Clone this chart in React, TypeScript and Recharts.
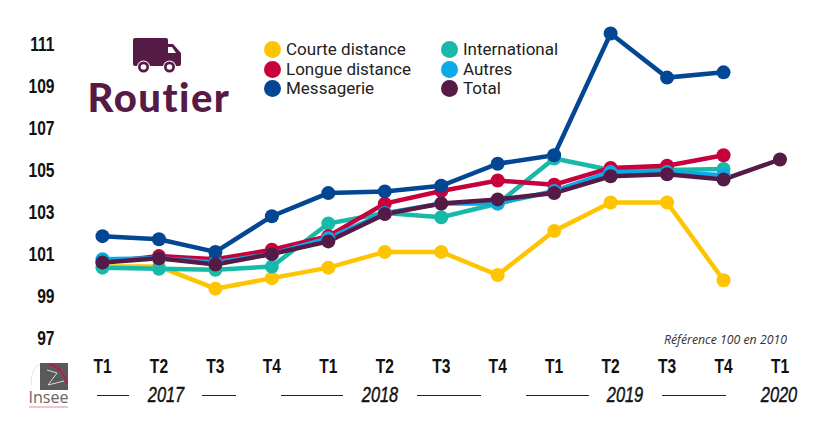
import React from "react";
import { LineChart, Line, XAxis, YAxis, Legend } from "recharts";

const quarterIds = ["17T1","17T2","17T3","17T4","18T1","18T2","18T3","18T4","19T1","19T2","19T3","19T4","20T1"];
const quarterLabels = ["T1","T2","T3","T4","T1","T2","T3","T4","T1","T2","T3","T4","T1"];
const yTicks = [97,99,101,103,105,107,109,111];

const courte = [100.4,100.4,99.35,99.85,100.35,101.1,101.1,100.0,102.1,103.45,103.45,99.75,null];
const international = [100.35,100.3,100.25,100.4,102.45,102.95,102.75,103.4,105.55,105.0,105.0,105.05,null];
const longue = [100.6,100.9,100.75,101.2,101.85,103.4,104.0,104.5,104.3,105.1,105.2,105.7,null];
const autres = [100.75,100.8,100.6,101.0,101.75,102.95,103.4,103.4,104.0,104.9,104.9,104.75,null];
const messagerie = [101.85,101.7,101.1,102.8,103.9,103.98,104.25,105.3,105.7,111.5,109.4,109.65,null];
const total = [100.6,100.8,100.5,101.0,101.6,102.9,103.4,103.6,103.9,104.7,104.8,104.55,105.5];

const rows = quarterIds.map((id, i) => ({
  id,
  courte: courte[i],
  international: international[i],
  longue: longue[i],
  autres: autres[i],
  messagerie: messagerie[i],
  total: total[i],
}));

const drawOrder = [
  { key: "courte", color: "#ffc400" },
  { key: "international", color: "#17baa8" },
  { key: "longue", color: "#c8003c" },
  { key: "autres", color: "#0aa9e8" },
  { key: "messagerie", color: "#034694" },
  { key: "total", color: "#561a46" },
];

const legendItems = [
  { name: "Courte distance", color: "#ffc400", x: 264, y: 40 },
  { name: "Longue distance", color: "#c8003c", x: 264, y: 60 },
  { name: "Messagerie", color: "#034694", x: 264, y: 79 },
  { name: "International", color: "#17baa8", x: 441, y: 40 },
  { name: "Autres", color: "#0aa9e8", x: 441, y: 60 },
  { name: "Total", color: "#561a46", x: 441, y: 79 },
];

const years = [
  { label: "2017", x: 166 },
  { label: "2018", x: 380 },
  { label: "2019", x: 625 },
  { label: "2020", x: 779 },
];
const yearRules = [[97,129],[202,236],[281,343],[417,481],[526,589],[662,726]];

const tickFont = "'Liberation Sans', sans-serif";

function YTick({ x, y, payload }: any) {
  return (
    <text
      transform={`translate(${x + 6},${y + 7}) scale(0.78,1.05)`}
      textAnchor="end"
      fill="#111"
      style={{ font: `700 20px ${tickFont}` }}
    >
      {payload.value}
    </text>
  );
}

function XTick({ x, y, index }: any) {
  return (
    <text
      transform={`translate(${x},${y + 15}) scale(0.82,1.05)`}
      textAnchor="middle"
      fill="#111"
      style={{ font: `700 19px ${tickFont}` }}
    >
      {quarterLabels[index]}
    </text>
  );
}

function LegendBox() {
  return (
    <div style={{ position: "relative", width: 836, height: 0 }}>
      {legendItems.map((it) => (
        <div key={it.name} style={{ position: "absolute", left: it.x, top: it.y, display: "flex", alignItems: "center", height: 18, whiteSpace: "nowrap" }}>
          <span style={{ width: 17, height: 17, borderRadius: "50%", background: it.color, display: "inline-block", marginRight: 5 }} />
          <span style={{ font: "17px Roboto, sans-serif", color: "#222" }}>{it.name}</span>
        </div>
      ))}
    </div>
  );
}

function Overlay() {
  return (
    <svg width={836} height={426} style={{ position: "absolute", left: 0, top: 0, pointerEvents: "none" }}>
      <g fill="#561a46">
        <rect x={133} y={38} width={35} height={28} rx={2} />
        <path d="M168 44 h5 l8 9 v11 a2 2 0 0 1 -2 2 h-11 z" />
        <path d="M168 47 h4 l4 6 h-8 z" fill="#fff" />
        <circle cx={143.5} cy={67} r={6.5} fill="#fff" />
        <circle cx={143.5} cy={67} r={5.5} />
        <circle cx={143.5} cy={67} r={2.8} fill="#fff" />
        <circle cx={169.5} cy={67} r={6.5} fill="#fff" />
        <circle cx={169.5} cy={67} r={5.5} />
        <circle cx={169.5} cy={67} r={2.8} fill="#fff" />
      </g>
      <text x={159} y={112} textAnchor="middle" fill="#561a46" style={{ font: "900 40px Lato, sans-serif", letterSpacing: 1.5 }}>Routier</text>

      <text x={787} y={344} textAnchor="end" fill="#333" style={{ font: "italic 12.3px 'Open Sans', sans-serif" }}>Référence 100 en 2010</text>

      {years.map((y) => (
        <text key={y.label} transform={`translate(${y.x},402) scale(0.82,1.1)`} textAnchor="middle" fill="#111" style={{ font: `italic 400 20px ${tickFont}` }} stroke="#111" strokeWidth={0.4}>{y.label}</text>
      ))}
      {yearRules.map(([a, b]) => (
        <line key={a} x1={a} x2={b} y1={395.5} y2={395.5} stroke="#222" strokeWidth={1} />
      ))}

      <rect x={40} y={363} width={28} height={27} fill="#5a5a5a" />
      <path d="M49 364 Q63 368 67.5 384" fill="none" stroke="#d0103a" strokeWidth={1.5} />
      <path d="M47 370 L57 373 L48 385 L64 381" fill="none" stroke="#ddd" strokeWidth={1} />
      <path d="M31 385 Q31 368 40 364" fill="none" stroke="#e4e4e4" strokeWidth={1} />
      <text x={28.5} y={403} fill="#666" textLength={40} lengthAdjust="spacingAndGlyphs" style={{ font: "17px 'Open Sans', sans-serif" }}>Insee</text>
      <line x1={29} x2={68} y1={407} y2={407} stroke="#e58aa0" strokeWidth={1.2} />
    </svg>
  );
}

export default function App() {
  return (
    <div style={{ position: "absolute", left: 0, top: 0, width: 836, height: 426, background: "#fff" }}>
      <LineChart width={836} height={426} data={rows} margin={{ top: 23, right: 56, bottom: 0, left: 0 }}>
        <XAxis
          dataKey="id"
          scale="point"
          padding={{ left: 0, right: 0 }}
          interval={0}
          height={88}
          axisLine={false}
          tickLine={false}
          tickMargin={14}
          tick={<XTick />}
        />
        <YAxis
          type="number"
          domain={[97, 112]}
          ticks={yTicks}
          width={102.5}
          axisLine={false}
          tickLine={false}
          tickMargin={48}
          tick={<YTick />}
        />
        <Legend content={<LegendBox />} wrapperStyle={{ position: "absolute", left: 0, top: 0, width: 836, height: 0 }} />
        {drawOrder.map((s) => (
          <Line
            key={s.key}
            dataKey={s.key}
            stroke={s.color}
            strokeWidth={4.5}
            type="linear"
            dot={{ r: 7, fill: s.color, stroke: s.color, strokeWidth: 0 }}
            isAnimationActive={false}
            connectNulls={false}
          />
        ))}
      </LineChart>
      <Overlay />
    </div>
  );
}
